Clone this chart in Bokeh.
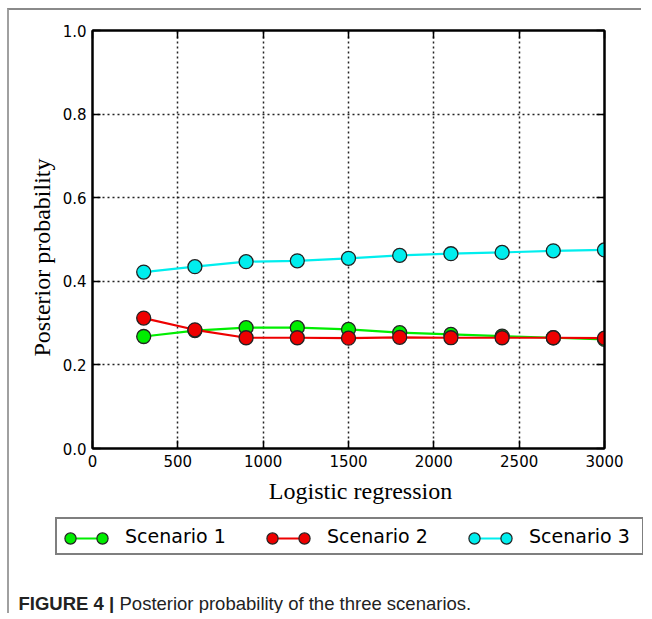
from bokeh.plotting import figure
from bokeh.models import (Range1d, LinearAxis, FixedTicker, PrintfTickFormatter,
                          Legend, LegendItem, Label, CustomJSTickFormatter, ColumnDataSource)
from bokeh.core.properties import value
from bokeh.embed import file_html
from bokeh.resources import INLINE

# ---------------- data ----------------
sample_sizes = [300, 600, 900, 1200, 1500, 1800, 2100, 2400, 2700, 3000]
scenario1 = [0.268, 0.282, 0.289, 0.289, 0.285, 0.277, 0.273, 0.269, 0.265, 0.261]
scenario2 = [0.312, 0.284, 0.265, 0.265, 0.264, 0.266, 0.265, 0.265, 0.265, 0.264]
scenario3 = [0.422, 0.435, 0.447, 0.449, 0.455, 0.462, 0.466, 0.469, 0.473, 0.475]
series_names = ["Scenario 1", "Scenario 2", "Scenario 3"]
series_colors = ["#00ee00", "#ee0000", "#00eeee"]
x_ticks = [0, 500, 1000, 1500, 2000, 2500, 3000]
y_ticks = [0.0, 0.2, 0.4, 0.6, 0.8, 1.0]
x_label = "Logistic regression"
y_label = "Posterior probability"
caption_bold = "FIGURE 4 |"
caption_text = "Posterior probability of the three scenarios."

W = 634
NB = "\u00a0"

# ---------------- main plot ----------------
p = figure(width=W, height=508, x_range=Range1d(0, 3000), y_range=Range1d(0, 1),
           output_backend="svg", toolbar_location=None,
           min_border_left=83, min_border_right=39, min_border_top=20, min_border_bottom=70,
           x_axis_label=NB * 4 + x_label, y_axis_label=y_label + NB * 6)
p.styles = {"margin-top": "8px", "margin-left": "7px",
            "border-top": "2px solid #8a8a8a", "border-left": "2px solid #a0a0a0"}
p.background_fill_color = "white"
p.border_fill_color = "white"
p.outline_line_color = "black"
p.outline_line_width = 2

def style_axis(ax, ticks, labels=True):
    ax.ticker = FixedTicker(ticks=ticks)
    ax.axis_line_color = "black"
    ax.axis_line_width = 2
    ax.major_tick_in = 8
    ax.major_tick_out = 0
    ax.major_tick_line_color = "black"
    ax.major_tick_line_width = 1.5
    ax.minor_tick_line_color = None
    ax.major_label_text_font = "DejaVu Sans"
    ax.major_label_text_font_size = "15px"
    ax.major_label_text_color = "black"
    ax.major_label_standoff = 6
    ax.axis_label_text_font = "Liberation Serif"
    ax.axis_label_text_font_size = "24px"
    ax.axis_label_text_font_style = "normal"
    ax.axis_label_text_color = "black"
    ax.axis_label_standoff = 8
    if not labels:
        ax.formatter = CustomJSTickFormatter(code="return ''")

style_axis(p.xaxis[0], x_ticks)
style_axis(p.yaxis[0], y_ticks)
p.xaxis[0].formatter = PrintfTickFormatter(format="%d")
p.yaxis[0].formatter = PrintfTickFormatter(format="%.1f")
p.yaxis[0].axis_label_standoff = 5

top_axis = LinearAxis()
style_axis(top_axis, x_ticks, labels=False)
p.add_layout(top_axis, "above")
right_axis = LinearAxis()
style_axis(right_axis, y_ticks, labels=False)
p.add_layout(right_axis, "right")

for g in (p.xgrid[0], p.ygrid[0]):
    g.grid_line_color = "#222222"
    g.grid_line_width = 1.5
    g.grid_line_dash = "2 3"
p.xgrid[0].ticker = FixedTicker(ticks=x_ticks)
p.ygrid[0].ticker = FixedTicker(ticks=y_ticks)

series_values = [scenario1, scenario2, scenario3]
for ys, col in zip(series_values, series_colors):
    p.line(sample_sizes, ys, line_color=col, line_width=2.2)
    p.scatter(sample_sizes, ys, size=14, fill_color=col, line_color="#222222", line_width=1.3)

# ---------------- legend + caption panel ----------------
QH = 97
# the y range lies above every value, so this panel's renderers only feed the legend
q = figure(width=W, height=QH, x_range=Range1d(0, 3000), y_range=Range1d(10, 11),
           output_backend="svg", toolbar_location=None,
           x_axis_type=None, y_axis_type=None,
           min_border_left=0, min_border_right=0, min_border_top=0, min_border_bottom=0)
q.styles = {"margin-left": "7px", "border-left": "2px solid #a0a0a0"}
q.outline_line_color = None
q.grid.visible = False
q.background_fill_color = "white"
q.border_fill_color = "white"

leg_lines, leg_marks = [], []
for ys, col in zip(series_values, series_colors):
    src = ColumnDataSource(data=dict(x=sample_sizes, y=ys))
    leg_lines.append(q.line("x", "y", source=src, line_color=col, line_width=2.2))
    leg_marks.append(q.scatter("x", "y", source=src, fill_color=col,
                               line_color="#222222", line_width=1.2))
leg_blank = q.scatter(sample_sizes, scenario1, fill_alpha=0, line_alpha=0)

LEG_Y = 58
def make_legend(items, x, show_box, glyph_width, standoff):
    lg = Legend(items=items, location=(x, LEG_Y), orientation="horizontal",
                padding=3, spacing=27, glyph_width=glyph_width, glyph_height=28,
                label_standoff=standoff, label_width=110,
                label_text_font="DejaVu Sans", label_text_font_size="19px",
                label_text_color="black")
    if show_box:
        lg.border_line_color = "black"
        lg.border_line_width = 2
        lg.background_fill_color = "white"
        lg.background_fill_alpha = 1
    else:
        lg.border_line_alpha = 0
        lg.background_fill_alpha = 0
        lg.label_text_alpha = 0
    return lg

# box + texts; then line segment and the two end markers of each entry (same item pitch)
box_legend = make_legend([LegendItem(label=value(n), renderers=[leg_blank]) for n in series_names],
                         46, True, 20, 45)
line_legend = make_legend([LegendItem(label=value(" "), renderers=[r]) for r in leg_lines],
                          58, False, 32, 33)
m1_legend = make_legend([LegendItem(label=value(" "), renderers=[r]) for r in leg_marks],
                        42, False, 32, 33)
m2_legend = make_legend([LegendItem(label=value(" "), renderers=[r]) for r in leg_marks],
                        74, False, 32, 33)
for lg in (box_legend, line_legend, m1_legend, m2_legend):
    q.add_layout(lg, "center")

cap1 = Label(x=9, y=10, x_units="screen", y_units="screen", text=caption_bold,
             text_font="Liberation Sans", text_font_size="18.5px", text_font_style="bold",
             text_color="#222222", text_baseline="alphabetic")
cap2 = Label(x=110, y=10, x_units="screen", y_units="screen", text=caption_text,
             text_font="Liberation Sans", text_font_size="18.5px",
             text_color="#222222", text_baseline="alphabetic")
q.add_layout(cap1)
q.add_layout(cap2)

open("out.html", "w").write(file_html([p, q], INLINE))
